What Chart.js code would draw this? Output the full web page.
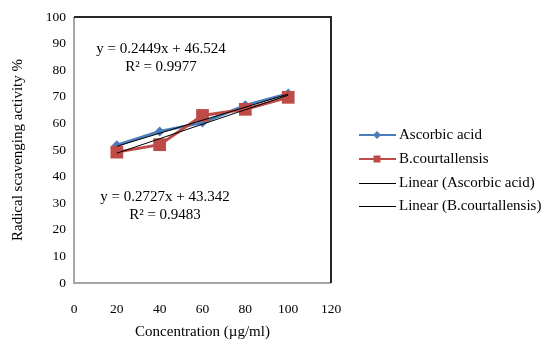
<!DOCTYPE html>
<html lang="en">
<head>
  <meta charset="UTF-8">
  <title>Radical scavenging activity</title>
  <script src="https://cdn.jsdelivr.net/npm/chart.js"></script>
  <style>
    body { margin: 0; background: #fff; }
    canvas { display: block; }
  </style>
</head>
<body>
  <canvas id="dpphChart" width="544" height="344"></canvas>

  <script>
    // values
    const concentrations = [20, 40, 60, 80, 100];
    const ascorbicAcid = [51.8, 57, 60.3, 66.8, 71.2];
    const bCourtallensis = [49.2, 52, 63, 65.3, 69.8];

    // trendline end points (x = 20 and x = 100)
    const trendX = [20, 100];
    const ascorbicTrend = [51.4, 71.0];
    const bCourtTrend = [48.8, 70.6];

    const ascorbicEq = ['y = 0.2449x + 46.524', 'R² = 0.9977'];
    const bCourtEq = ['y = 0.2727x + 43.342', 'R² = 0.9483'];

    const xTicks = [0, 20, 40, 60, 80, 100, 120];
    const yTicks = [0, 10, 20, 30, 40, 50, 60, 70, 80, 90, 100];

    const serif = "'Liberation Serif', 'Times New Roman', serif";
    const blue = '#4A7EBB';
    const red = '#BE4B48';

    const toPoints = (xs, ys) => xs.map((x, i) => ({ x: x, y: ys[i] }));

    // plot frame: grey left/bottom, dark top/right
    const framePlugin = {
      id: 'frame',
      beforeDatasetsDraw(chart) {
        const { ctx, chartArea: a } = chart;
        ctx.save();
        ctx.lineWidth = 2;
        ctx.strokeStyle = '#A6A6A6';
        ctx.beginPath();
        ctx.moveTo(a.left, a.top);
        ctx.lineTo(a.left, a.bottom);
        ctx.lineTo(a.right, a.bottom);
        ctx.stroke();
        ctx.strokeStyle = '#262626';
        ctx.beginPath();
        ctx.moveTo(a.left, a.top);
        ctx.lineTo(a.right, a.top);
        ctx.lineTo(a.right, a.bottom);
        ctx.stroke();
        ctx.restore();
      }
    };

    // trendline equations
    const equationPlugin = {
      id: 'equations',
      afterDatasetsDraw(chart) {
        const ctx = chart.ctx;
        ctx.save();
        ctx.font = '15px ' + serif;
        ctx.fillStyle = '#000';
        ctx.textAlign = 'center';
        ctx.textBaseline = 'middle';
        ctx.fillText(ascorbicEq[0], 161, 49);
        ctx.fillText(ascorbicEq[1], 161, 67);
        ctx.fillText(bCourtEq[0], 165, 197);
        ctx.fillText(bCourtEq[1], 165, 215);
        ctx.restore();
      }
    };

    // legend on the right, Excel style
    const legendPlugin = {
      id: 'sideLegend',
      afterDraw(chart) {
        const ctx = chart.ctx;
        const rows = [135, 159, 183, 206];
        ctx.save();
        ctx.font = '15px ' + serif;
        ctx.textBaseline = 'middle';
        chart.data.datasets.forEach((ds, i) => {
          const y = rows[i];
          const thick = ds.borderWidth > 1;
          const ly = thick ? y : y + 0.5;
          ctx.strokeStyle = ds.borderColor;
          ctx.lineWidth = thick ? 2 : 1;
          ctx.beginPath();
          ctx.moveTo(359, ly);
          ctx.lineTo(396, ly);
          ctx.stroke();
          if (ds.pointStyle === 'rectRot') {
            ctx.fillStyle = ds.pointBackgroundColor;
            ctx.beginPath();
            ctx.moveTo(377, y - 4);
            ctx.lineTo(381, y);
            ctx.lineTo(377, y + 4);
            ctx.lineTo(373, y);
            ctx.closePath();
            ctx.fill();
          } else if (ds.pointStyle === 'rect') {
            ctx.fillStyle = ds.pointBackgroundColor;
            ctx.fillRect(373.5, y - 3.5, 7, 7);
          }
          ctx.fillStyle = '#000';
          ctx.fillText(ds.label, 399, y);
        });
        ctx.restore();
      }
    };

    const ctx = document.getElementById('dpphChart').getContext('2d');
    new Chart(ctx, {
      type: 'scatter',
      data: {
        datasets: [
          {
            label: 'Ascorbic acid',
            data: toPoints(concentrations, ascorbicAcid),
            showLine: true,
            borderColor: blue,
            borderWidth: 3,
            pointStyle: 'rectRot',
            pointRadius: 5,
            pointBackgroundColor: blue,
            pointBorderColor: blue,
            pointBorderWidth: 0,
            order: 2
          },
          {
            label: 'B.courtallensis',
            data: toPoints(concentrations, bCourtallensis),
            showLine: true,
            borderColor: red,
            borderWidth: 3,
            pointStyle: 'rect',
            pointRadius: 9,
            pointBackgroundColor: red,
            pointBorderColor: red,
            pointBorderWidth: 0,
            order: 1
          },
          {
            label: 'Linear (Ascorbic acid)',
            data: toPoints(trendX, ascorbicTrend),
            showLine: true,
            borderColor: '#000',
            borderWidth: 1,
            pointRadius: 0,
            order: 0
          },
          {
            label: 'Linear (B.courtallensis)',
            data: toPoints(trendX, bCourtTrend),
            showLine: true,
            borderColor: '#000',
            borderWidth: 1,
            pointRadius: 0,
            order: 0
          }
        ]
      },
      options: {
        responsive: false,
        animation: false,
        layout: { padding: { top: 17, right: 213, bottom: 0, left: 0 } },
        plugins: {
          legend: { display: false },
          tooltip: { enabled: false }
        },
        scales: {
          x: {
            type: 'linear',
            min: 0,
            max: 120,
            afterBuildTicks: (scale) => { scale.ticks = xTicks.map(v => ({ value: v })); },
            afterFit: (scale) => { scale.height = 61; },
            grid: { display: false, drawTicks: false },
            border: { display: false },
            ticks: { padding: 18, color: '#000', font: { family: serif, size: 13.5 } },
            title: {
              display: true,
              text: 'Concentration (µg/ml)',
              color: '#000',
              font: { family: serif, size: 15 },
              padding: { top: 0, bottom: 3 }
            }
          },
          y: {
            min: 0,
            max: 100,
            afterBuildTicks: (scale) => { scale.ticks = yTicks.map(v => ({ value: v })); },
            afterFit: (scale) => { scale.width = 74; },
            grid: { display: false, drawTicks: false },
            border: { display: false },
            ticks: { padding: 8, color: '#000', font: { family: serif, size: 13.5 } },
            title: {
              display: true,
              text: 'Radical scavenging activity %',
              color: '#000',
              font: { family: serif, size: 15 },
              padding: { top: 9, bottom: 0 }
            }
          }
        }
      },
      plugins: [framePlugin, equationPlugin, legendPlugin]
    });
  </script>
</body>
</html>
